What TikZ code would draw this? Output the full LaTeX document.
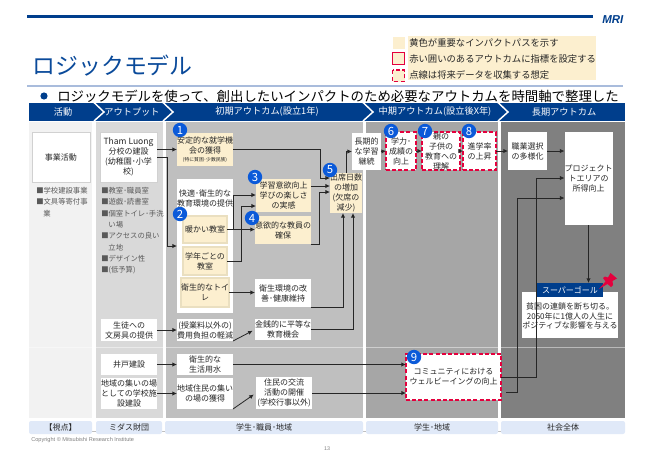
\documentclass[tikz,border=0pt]{standalone}
\usepackage{fontspec}
\setmainfont{Noto Sans CJK JP}
\newfontfamily\latinf{Liberation Sans}
\usetikzlibrary{arrows.meta,calc}
\definecolor{navy}{HTML}{003E8C}
\definecolor{titleblue}{HTML}{0A4A9A}
\definecolor{ruleblue}{HTML}{A9BCDC}
\definecolor{yel}{HTML}{FCEFCF}
\definecolor{yeledge}{HTML}{EADFC0}
\definecolor{crim}{HTML}{E4003D}
\definecolor{dot}{HTML}{0B5AD9}
\definecolor{txt}{HTML}{262626}
\definecolor{labelblue}{HTML}{E0E9F8}
\newcommand{\Bx}[7]{%
  \pgfmathsetmacro\bw{(#5-#3)*0.75}\pgfmathsetmacro\bh{(#6-#4)*0.75}%
  \node[#1,minimum width=\bw pt,minimum height=\bh pt] (#2) at ({(#3+#5)/2},{(#4+#6)/2}) {#7};}
\tikzset{
  base/.style={inner sep=0pt,outer sep=0pt,align=center,text=txt,font=\fontsize{6}{7.5}\selectfont},
  wbox/.style={base,fill=white},
  wedge/.style={base,fill=white,draw=black!18,line width=0.6pt},
  ybox/.style={base,fill=yel},
  yedge/.style={base,fill=yel,draw=yeledge,line width=0.8pt},
  rbox/.style={base,fill=white,draw=crim,line width=1pt,dash pattern=on 3pt off 1.6pt},
  bottomlabel/.style={base,fill=labelblue,rounded corners=1.5pt,font=\fontsize{6}{7}\selectfont},
  headtext/.style={inner sep=0pt,text=white,font=\fontsize{6.9}{8}\selectfont},
  num/.style={circle,fill=dot,text=white,minimum size=10.8pt,inner sep=0pt,font=\fontsize{8.5}{9}\selectfont},
  bullets/.style={inner sep=0pt,anchor=north west,align=left,text=black!65,font=\fontsize{5.5}{8.5}\selectfont},
  legendtext/.style={inner sep=0pt,anchor=west,text=txt,font=\fontsize{7}{8}\selectfont},
  arr/.style={draw=txt,line width=0.6pt,-{Latex[length=3.4pt,width=3.2pt]}}
}
\begin{document}
\begin{tikzpicture}[x=0.75pt,y=-0.75pt]
\useasboundingbox (0,0) rectangle (650,450);
% header rules
\draw[navy,line width=2.4pt] (27,16.7) -- (593,16.7);
\node[inner sep=0pt,anchor=west,text=navy,font=\latinf\bfseries\itshape\fontsize{8.6}{9}\selectfont] (mri) at (602,20) {MRI};
\node[inner sep=0pt,anchor=west,text=titleblue,font=\fontsize{17.2}{20}\selectfont] (title) at (32,66) {ロジックモデル};
\draw[ruleblue,line width=0.8pt] (27,86) -- (623,86);
\fill[navy] (44,96) circle (3.6);
\node[inner sep=0pt,anchor=west,text=black,font=\fontsize{10.05}{12}\selectfont] (lead) at (57,96) {ロジックモデルを使って、創出したいインパクトのため必要なアウトカムを時間軸で整理した};
% legend
\fill[yel] (408,36) rectangle (596,80);
\fill[yel] (393,37) rectangle (405,49);
\draw[crim,line width=0.9pt,fill=yel] (392.5,52.5) rectangle (404.5,64.5);
\draw[crim,line width=0.9pt,fill=yel,dash pattern=on 3pt off 2pt] (392.5,70) rectangle (404.5,81.5);
\node[legendtext] (lg1) at (409,43) {黄色が重要なインパクトパスを示す};
\node[legendtext] (lg2) at (409,59) {赤い囲いのあるアウトカムに指標を設定する};
\node[legendtext] (lg3) at (409,75) {点線は将来データを収集する想定};
% columns
\fill[black!5] (29,122) rectangle (92,418);
\fill[black!15] (96,122) rectangle (163,418);
\fill[black!25] (166,122) rectangle (363,418);
\fill[black!35] (366,122) rectangle (498,418);
\fill[black!50] (501,122) rectangle (625,418);
\draw[white,opacity=.45,line width=0.7pt] (29,347.5) -- (625,347.5);
% head band
\fill[navy] (29,103) rectangle (625,120.5);
\draw[white,line width=1.1pt] (94,102.5) -- (104,112) -- (94,121);
\draw[white,line width=1.1pt] (163,102.5) -- (173,112) -- (163,121);
\draw[white,line width=1.1pt] (363,102.5) -- (373,112) -- (363,121);
\draw[white,line width=1.1pt] (498,102.5) -- (508,112) -- (498,121);
\node[headtext] (h1) at (63,112) {活動};
\node[headtext] (h2) at (132,112) {アウトプット};
\node[headtext] (h3) at (267,112) {初期アウトカム(設立1年)};
\node[headtext] (h4) at (435,112) {中期アウトカム(設立後X年)};
\node[headtext] (h5) at (564,112) {長期アウトカム};
% bottom labels
\draw[black!25,line width=0.7pt] (29,431) -- (625,431);
\Bx{bottomlabel}{l1}{29}{421}{92}{434}{【視点】}
\Bx{bottomlabel}{l2}{96}{421}{162}{434}{ミダス財団}
\Bx{bottomlabel}{l3}{165}{421}{363}{434}{学生･職員･地域}
\Bx{bottomlabel}{l4}{366}{421}{498}{434}{学生･地域}
\Bx{bottomlabel}{l5}{501}{421}{625}{434}{社会全体}
\node[inner sep=0pt,anchor=west,text=black!50,font=\latinf\fontsize{4.2}{5}\selectfont] (copy) at (31,440) {Copyright © Mitsubishi Research Institute};
\node[inner sep=0pt,text=black!50,font=\latinf\fontsize{4}{5}\selectfont] (page) at (327,449) {13};
% activity
\Bx{wedge}{act}{32}{132}{90}{182}{事業活動}
\node[bullets] (actlist) at (36,187) {■学校建設事業\\■文具等寄付事\\\hspace{5.4pt}業};
% output
\Bx{wedge}{tham}{100}{132}{157}{182}{\fontsize{6.4}{8}\selectfont Tham Luong\\分校の建設\\(幼稚園･小学\\校)}
\node[bullets] (outlist) at (101,187) {■教室･職員室\\■遊戯･読書室\\■個室トイレ･手洗\\\hspace{5.4pt}い場\\■アクセスの良い\\\hspace{5.4pt}立地\\■デザイン性\\■(低予算)};
\Bx{wbox}{stat}{101}{319}{157}{341}{生徒への\\文房具の提供}
\Bx{wbox}{well}{101}{354}{157}{375}{井戸建設}
\Bx{wbox}{hall}{101}{378}{157}{409}{地域の集いの場\\としての学校施\\設建設}
% initial
\Bx{ybox}{b1}{177}{133}{233}{166}{安定的な就学機\\会の獲得\\[-1pt]{\fontsize{3.6}{4.5}\selectfont (特に貧困･少数民族)}}
\Bx{wbox}{env}{177}{179}{233}{313}{}
\node[inner sep=0pt,align=center,text=txt,font=\fontsize{6}{7.5}\selectfont] (envtext) at (205,198) {快適･衛生的な\\教育環境の提供};
\Bx{yedge}{warm}{183}{216}{227}{243}{暖かい教室}
\Bx{yedge}{grade}{183}{247}{227}{275}{学年ごとの\\教室}
\Bx{yedge}{toilet}{183}{278}{227}{307}{衛生的なトイ\\レ}
\Bx{ybox}{b3}{256}{179}{311}{212}{学習意欲向上\\学びの楽しさ\\の実感}
\Bx{ybox}{b4}{255}{216}{311}{244}{意欲的な教員の\\確保}
\Bx{ybox}{b5}{331}{173}{361}{213}{出席日数\\の増加\\(欠席の\\減少)}
\Bx{wbox}{health}{255}{279}{311}{307}{衛生環境の改\\善･健康維持}
\Bx{wbox}{fee}{177}{319}{233}{341}{(授業料以外の)\\費用負担の軽減}
\Bx{wbox}{money}{255}{319}{311}{340}{金銭的に平等な\\教育機会}
\Bx{wbox}{water}{177}{354}{233}{375}{衛生的な\\生活用水}
\Bx{wbox}{gather}{177}{378}{233}{409}{地域住民の集い\\の場の獲得}
\Bx{wbox}{res}{256}{377}{312}{409}{住民の交流\\活動の開催\\(学校行事以外)}
% mid
\Bx{wbox}{cont}{352}{133}{381}{170}{長期的\\な学習\\継続}
\Bx{rbox}{b6}{386}{132}{416}{170}{学力･\\成績の\\向上}
\Bx{rbox}{b7}{422}{132}{460}{170}{親の\\子供の\\教育への\\理解}
\Bx{rbox}{b8}{463}{132}{496}{170}{進学率\\の上昇}
\Bx{rbox}{b9}{406}{354}{501}{400}{コミュニティにおける\\ウェルビーイングの向上}
% long
\Bx{wbox}{job}{508}{132}{547}{170}{職業選択\\の多様化}
\Bx{wbox}{prj}{569}{132}{608}{225}{プロジェクト\\トエリアの\\所得向上}
\Bx{wbox}{goal}{522}{292}{618}{338}{}
\node[inner sep=0pt,align=center,text=txt,font=\fontsize{6}{7}\selectfont] (goaltext) at (570,316) {貧困の連鎖を断ち切る。\\2050年に1億人の人生に\\ポジティブな影響を与える};
\Bx{base,fill=navy,text=white}{sg}{537}{283}{603}{297}{スーパーゴール}
% pin
\fill[crim] (599,289) -- (605.5,281.5) -- (603,278) -- (605,276.5) -- (608,277.5) -- (610.5,273) -- (617,278.5) -- (612.5,281) -- (613,285) -- (611,287) -- (607.5,284) -- cycle;
% connectors
\coordinate (ninefree) at (506,392);
\draw[arr] (tham.east |- b1.west) -- (b1.west);
\draw[arr] (tham.east) -- ++(10,0) |- (env.west);
\draw[arr] (b1.east) -- (320,149.5) |- (b5.west |- 0,178);
\draw[arr] (b3.east |- 0,186) -- (b5.west |- 0,186);
\draw[arr] (b4.south east) -- (319,244) |- (b5.west |- 0,192);
\draw[arr] (warm.east) -- (b4.west |- warm.east);
\draw[arr] (233,229.5) |- (b3.west |- 0,195);
\draw[arr] (grade.east) -- (241,261) |- (b3.west |- 0,206);
\draw[arr] (toilet.east) -- (health.west |- toilet.east);
\draw[arr] (health.south east) -| ([xshift=-2.25pt]b5.south);
\draw[arr] (money.east) -| ([xshift=5.25pt]b5.south);
\draw[arr] (b5.north) |- (cont.west);
\draw[arr] (cont.east) -- (b6.west);
\draw[arr] (b6.east) -- (b7.west);
\draw[arr] (b7.east) -- (b8.west);
\draw[arr] (b8.east) -- (job.west);
\draw[arr] (job.east) -- (prj.west |- job.east);
\draw[arr] (prj.south) -- (prj.south |- sg.north);
\draw[arr] (stat.east) -- (fee.west);
\draw[arr] (well.east) -- (water.west);
\draw[arr] (hall.east) -- (gather.west);
\draw[arr,shorten >=2pt] (fee.south east) -- (money.west);
\draw[arr,shorten >=2pt] (gather.south east) -- (res.west);
\draw[arr] (water.east) -- (b9.west |- water.east);
\draw[arr] (res.east) -- (b9.west |- res.east);
\draw[arr] (b9.east) -- (536,377) |- (prj.west |- 0,178);
\draw[arr] (ninefree) -- (517,392) |- (prj.west |- 0,198);
% numbers
\node[num] (n1) at (180,130) {1};
\node[num] (n2) at (180,214) {2};
\node[num] (n3) at (255,177) {3};
\node[num] (n4) at (252,218) {4};
\node[num] (n5) at (330,170) {5};
\node[num] (n6) at (391,131) {6};
\node[num] (n7) at (425,131) {7};
\node[num] (n8) at (469,131) {8};
\node[num] (n9) at (414,357) {9};
\end{tikzpicture}
\end{document}
